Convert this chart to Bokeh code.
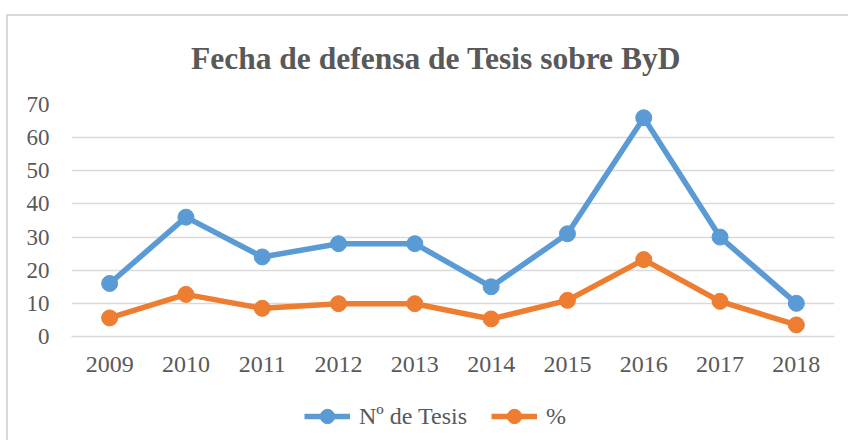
from bokeh.plotting import figure
from bokeh.layouts import column
from bokeh.models import FixedTicker, Legend, LegendItem, Range1d, FactorRange, Div
from bokeh.embed import file_html
from bokeh.resources import INLINE

title_text = "Fecha de defensa de Tesis sobre ByD"
years = ["2009", "2010", "2011", "2012", "2013", "2014", "2015", "2016", "2017", "2018"]
n_tesis = [16, 36, 24, 28, 28, 15, 31, 66, 30, 10]
pct = [5.6, 12.7, 8.5, 9.9, 9.9, 5.3, 10.9, 23.2, 10.6, 3.5]
y_ticks = [0, 10, 20, 30, 40, 50, 60, 70]
series_labels = ["Nº de Tesis", "%"]

BLUE = "#5B9BD5"
ORANGE = "#ED7D31"
TXT = "#595959"
GRID = "#D9D9D9"
FONT = "Liberation Serif"

title = Div(
    text=('<div style="padding-top:20px;padding-left:178px;line-height:36px;'
          'font-family:\'Liberation Serif\';font-size:31.5px;font-weight:bold;'
          'color:%s;white-space:nowrap;">%s</div>' % (TXT, title_text)),
    width=837, height=60,
)

p = figure(
    x_range=FactorRange(*years, range_padding=0),
    y_range=Range1d(0, 70),
    width=837, height=304,
    output_backend="svg", toolbar_location=None,
    min_border_left=63, min_border_right=11, min_border_top=18, min_border_bottom=54,
)

p.outline_line_color = None
p.xgrid.grid_line_color = None
p.ygrid.grid_line_color = GRID
p.ygrid.grid_line_width = 1.5
p.yaxis.ticker = FixedTicker(ticks=y_ticks)
p.yaxis.axis_line_color = None
p.yaxis.major_tick_line_color = None
p.yaxis.minor_tick_line_color = None
p.xaxis.axis_line_color = GRID
p.xaxis.axis_line_width = 1.5
p.xaxis.major_tick_line_color = None
for ax in (p.xaxis, p.yaxis):
    ax.major_label_text_font = FONT
    ax.major_label_text_color = TXT
p.xaxis.major_label_text_font_size = "24px"
p.yaxis.major_label_text_font_size = "23px"
p.yaxis.major_label_standoff = 16
p.xaxis.major_label_standoff = 14

p.line(years, n_tesis, line_color=BLUE, line_width=5.5)
p.scatter(years, n_tesis, size=16, fill_color=BLUE, line_color=BLUE)
p.line(years, pct, line_color=ORANGE, line_width=5.5)
p.scatter(years, pct, size=16, fill_color=ORANGE, line_color=ORANGE)

# legend strip below the chart (its series lie outside the visible range)
q = figure(width=837, height=50, output_backend="svg", toolbar_location=None,
           x_range=Range1d(0, 1), y_range=Range1d(0, 1),
           x_axis_location=None, y_axis_location=None,
           min_border=0)
q.outline_line_color = None
q.xgrid.grid_line_color = None
q.ygrid.grid_line_color = None
idx = list(range(len(years)))
ql1 = q.line(idx, n_tesis, line_color=BLUE, line_width=5.5)
qc1 = q.scatter(idx, n_tesis, size=16, fill_color=BLUE, line_color=BLUE)
ql2 = q.line(idx, pct, line_color=ORANGE, line_width=5.5)
qc2 = q.scatter(idx, pct, size=16, fill_color=ORANGE, line_color=ORANGE)
legend = Legend(
    items=[LegendItem(label=series_labels[0], renderers=[ql1, qc1]),
           LegendItem(label=series_labels[1], renderers=[ql2, qc2])],
    orientation="horizontal", location=(233, 6),
    label_text_font=FONT, label_text_font_size="24px", label_text_color=TXT,
    glyph_width=46, glyph_height=36, label_standoff=9, spacing=24,
    border_line_color=None, background_fill_alpha=0, padding=0, margin=0,
)
q.add_layout(legend, "center")

layout = column(title, p, q, spacing=0,
                styles={"margin-top": "14px", "margin-left": "6px",
                        "border-left": "2px solid #D9D9D9",
                        "border-top": "2px solid #D9D9D9"})

open("out.html", "w").write(file_html(layout, INLINE))
